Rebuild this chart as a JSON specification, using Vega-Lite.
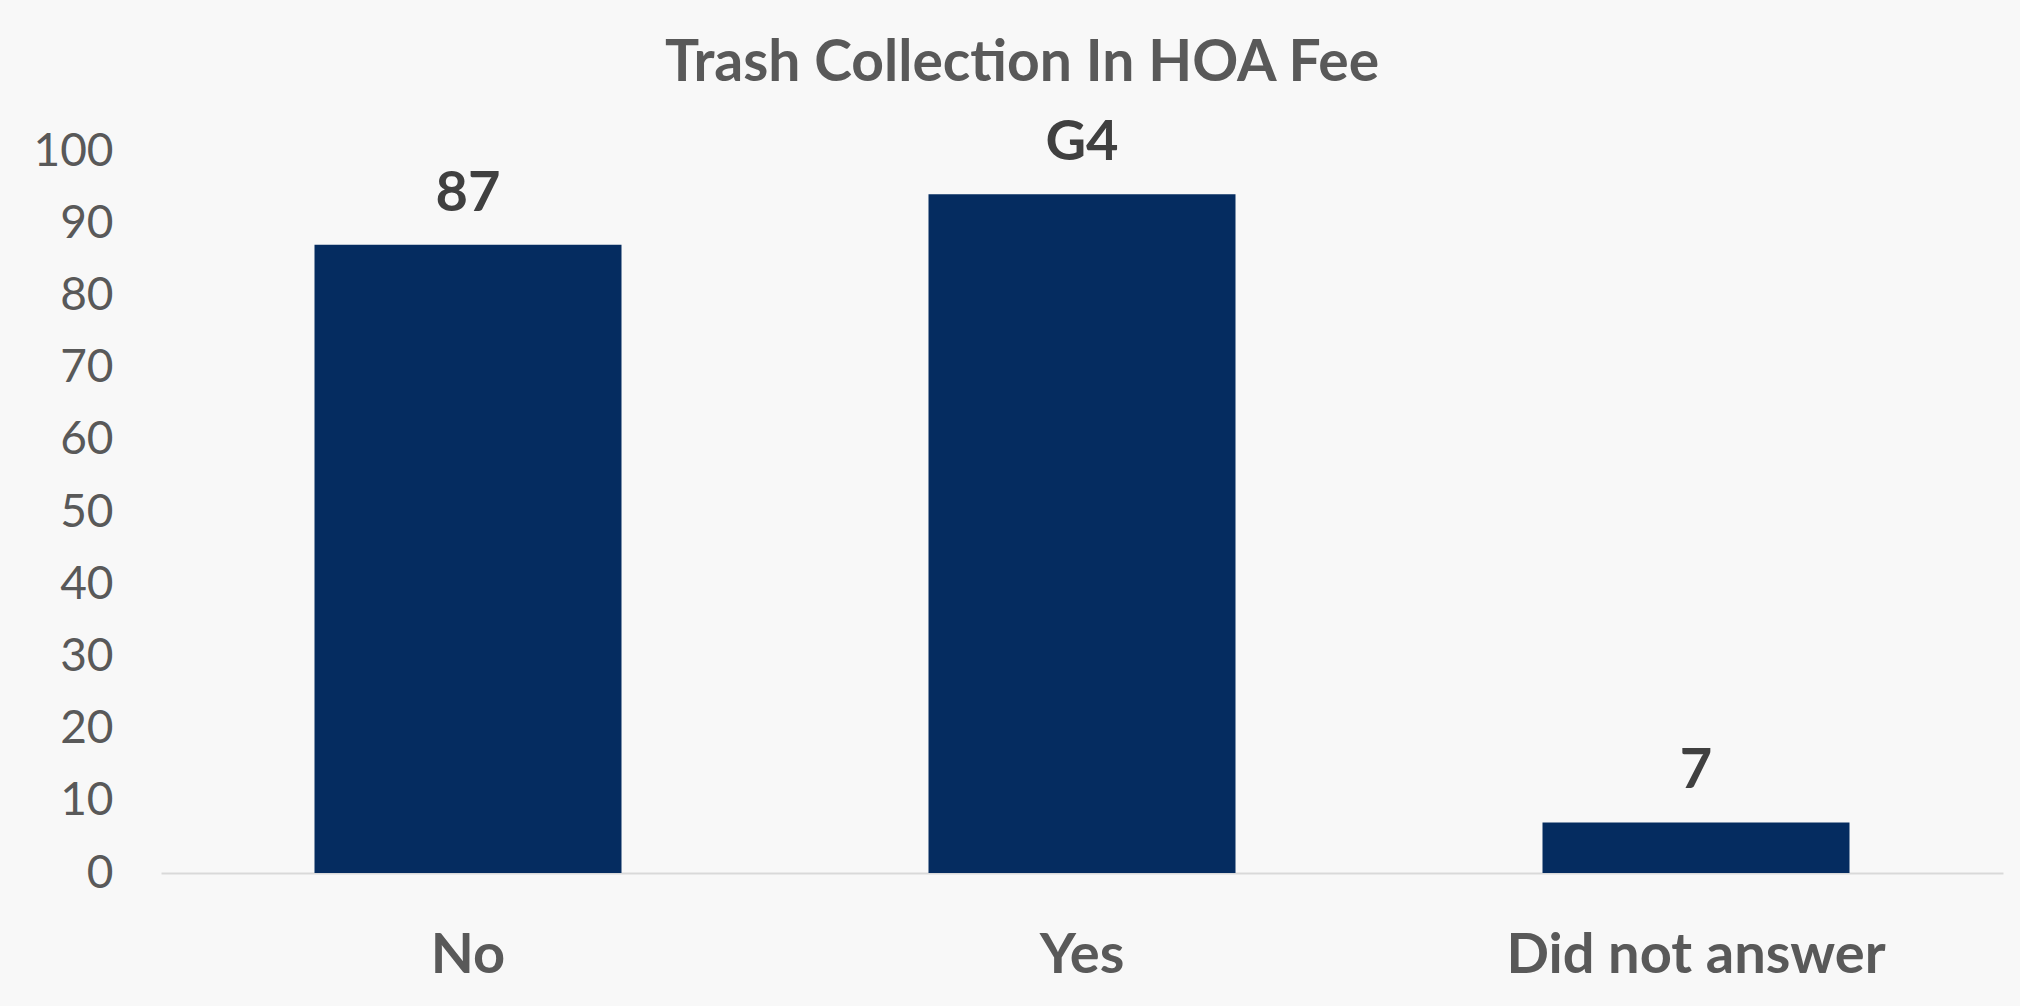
{
  "$schema": "https://vega.github.io/schema/vega-lite/v6.json",
  "autosize": "none",
  "width": 1842,
  "height": 722,
  "padding": {"left": 161, "top": 151, "right": 17, "bottom": 133},
  "background": "#f8f8f8",
  "title": {
    "text": "Trash Collection In HOA Fee",
    "font": "Lato",
    "fontSize": 57,
    "fontWeight": "bold",
    "color": "#595959",
    "anchor": "middle",
    "dx": -60,
    "offset": 22
  },
  "config": {
    "view": {"stroke": null},
    "font": "Lato"
  },
  "data": {
    "values": [
      {"answer": "No", "count": 87, "label": "87"},
      {"answer": "Yes", "count": 94, "label": "G4"},
      {"answer": "Did not answer", "count": 7, "label": "7"}
    ]
  },
  "encoding": {
    "x": {
      "field": "answer",
      "type": "nominal",
      "sort": null,
      "title": null,
      "scale": {"paddingInner": 0.5, "paddingOuter": 0.25},
      "axis": {
        "labelAngle": 0,
        "labelFont": "Lato",
        "labelFontSize": 56,
        "labelFontWeight": "bold",
        "labelColor": "#595959",
        "labelPadding": 55,
        "labelBaseline": "top",
        "labelLimit": 0,
        "ticks": false,
        "domainColor": "#d9d9d9",
        "domainWidth": 2,
        "grid": false
      }
    },
    "y": {
      "field": "count",
      "type": "quantitative",
      "title": null,
      "scale": {"domain": [0, 100], "nice": false},
      "axis": {
        "values": [0, 10, 20, 30, 40, 50, 60, 70, 80, 90, 100],
        "labelFont": "Lato",
        "labelFontSize": 46,
        "labelColor": "#595959",
        "labelPadding": 48,
        "ticks": false,
        "domain": false,
        "grid": false
      }
    }
  },
  "layer": [
    {
      "mark": {"type": "bar", "color": "#052C60"}
    },
    {
      "mark": {
        "type": "text",
        "baseline": "alphabetic",
        "dy": -34,
        "font": "Lato",
        "fontSize": 56,
        "fontWeight": "bold",
        "color": "#404040"
      },
      "encoding": {"text": {"field": "label"}}
    }
  ]
}
